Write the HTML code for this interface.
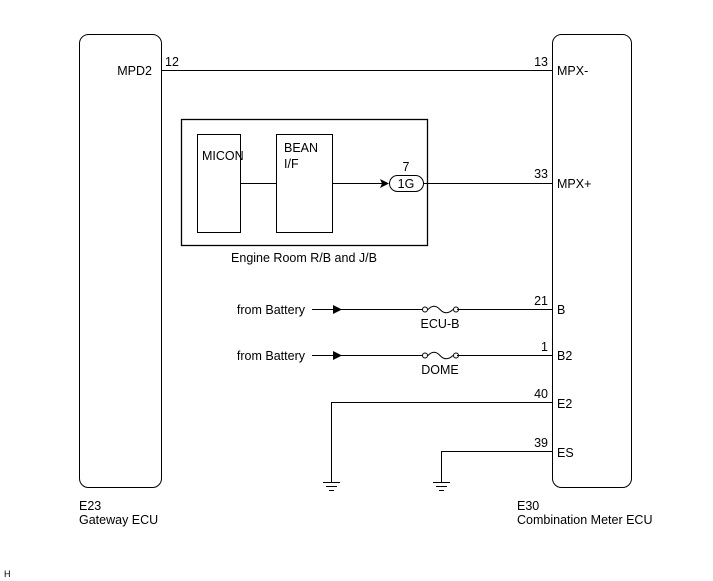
<!DOCTYPE html>
<html><head><style>
body{margin:0;background:#fff}
svg{display:block}
text{font-family:"Liberation Sans",sans-serif;font-size:12.5px;fill:#000}
</style></head><body>
<svg width="713" height="581" viewBox="0 0 713 581" xmlns="http://www.w3.org/2000/svg">
<g fill="none" stroke="#000" stroke-width="1">
<rect x="79.5" y="34.5" width="82" height="453" rx="9"/>
<rect x="552.5" y="34.5" width="79" height="453" rx="9"/>
<line x1="161" y1="70.5" x2="552" y2="70.5"/>
<rect x="181.5" y="119.5" width="246" height="126" stroke-width="1.3"/>
<rect x="197.5" y="134.5" width="43" height="98"/>
<rect x="276.5" y="134.5" width="56" height="98"/>
<line x1="240" y1="183.5" x2="276" y2="183.5"/>
<line x1="332" y1="183.5" x2="383" y2="183.5"/>
<rect x="389.5" y="175.5" width="34" height="16" rx="8"/>
<line x1="423" y1="183.5" x2="552" y2="183.5"/>
<line x1="312" y1="309.5" x2="423" y2="309.5"/>
<line x1="457" y1="309.5" x2="552" y2="309.5"/>
<circle cx="425" cy="309.5" r="2.5"/><circle cx="456" cy="309.5" r="2.5"/>
<path d="M428 309.5 Q434 303 440 309.5 Q446 316 453 309.5"/>
<line x1="312" y1="355.5" x2="423" y2="355.5"/>
<line x1="457" y1="355.5" x2="552" y2="355.5"/>
<circle cx="425" cy="355.5" r="2.5"/><circle cx="456" cy="355.5" r="2.5"/>
<path d="M428 355.5 Q434 349 440 355.5 Q446 362 453 355.5"/>
<polyline points="552,402.5 331.5,402.5 331.5,482"/>
<polyline points="552,451.5 441.5,451.5 441.5,482"/>
<line x1="323" y1="482.5" x2="340" y2="482.5"/><line x1="326" y1="486.5" x2="337" y2="486.5"/><line x1="329" y1="490.5" x2="334" y2="490.5"/>
<line x1="433" y1="482.5" x2="450" y2="482.5"/><line x1="436" y1="486.5" x2="447" y2="486.5"/><line x1="439" y1="490.5" x2="444" y2="490.5"/>
</g>
<polygon points="380,179 389,183.5 380,188 382,183.5" fill="#000"/>
<polygon points="333,305 342,309.5 333,314" fill="#000"/>
<polygon points="333,351 342,355.5 333,360" fill="#000"/>
<text x="152" y="75" text-anchor="end">MPD2</text>
<text x="165" y="66">12</text>
<text x="548" y="66" text-anchor="end">13</text>
<text x="557" y="75">MPX-</text>
<text x="202" y="160">MICON</text>
<text x="284" y="152">BEAN</text>
<text x="284" y="168">I/F</text>
<text x="406" y="171" text-anchor="middle">7</text>
<text x="406" y="188" text-anchor="middle">1G</text>
<text x="548" y="178" text-anchor="end">33</text>
<text x="557" y="188">MPX+</text>
<text x="304" y="262" text-anchor="middle">Engine Room R/B and J/B</text>
<text x="305" y="314" text-anchor="end">from Battery</text>
<text x="440" y="328" text-anchor="middle">ECU-B</text>
<text x="548" y="305" text-anchor="end">21</text>
<text x="557" y="314">B</text>
<text x="305" y="360" text-anchor="end">from Battery</text>
<text x="440" y="374" text-anchor="middle">DOME</text>
<text x="548" y="351" text-anchor="end">1</text>
<text x="557" y="360">B2</text>
<text x="548" y="398" text-anchor="end">40</text>
<text x="557" y="408">E2</text>
<text x="548" y="447" text-anchor="end">39</text>
<text x="557" y="457">ES</text>
<text x="79" y="510">E23</text>
<text x="79" y="524">Gateway ECU</text>
<text x="517" y="510">E30</text>
<text x="517" y="524">Combination Meter ECU</text>
<text x="4" y="577" style="font-size:9px">H</text>
</svg>
</body></html>
